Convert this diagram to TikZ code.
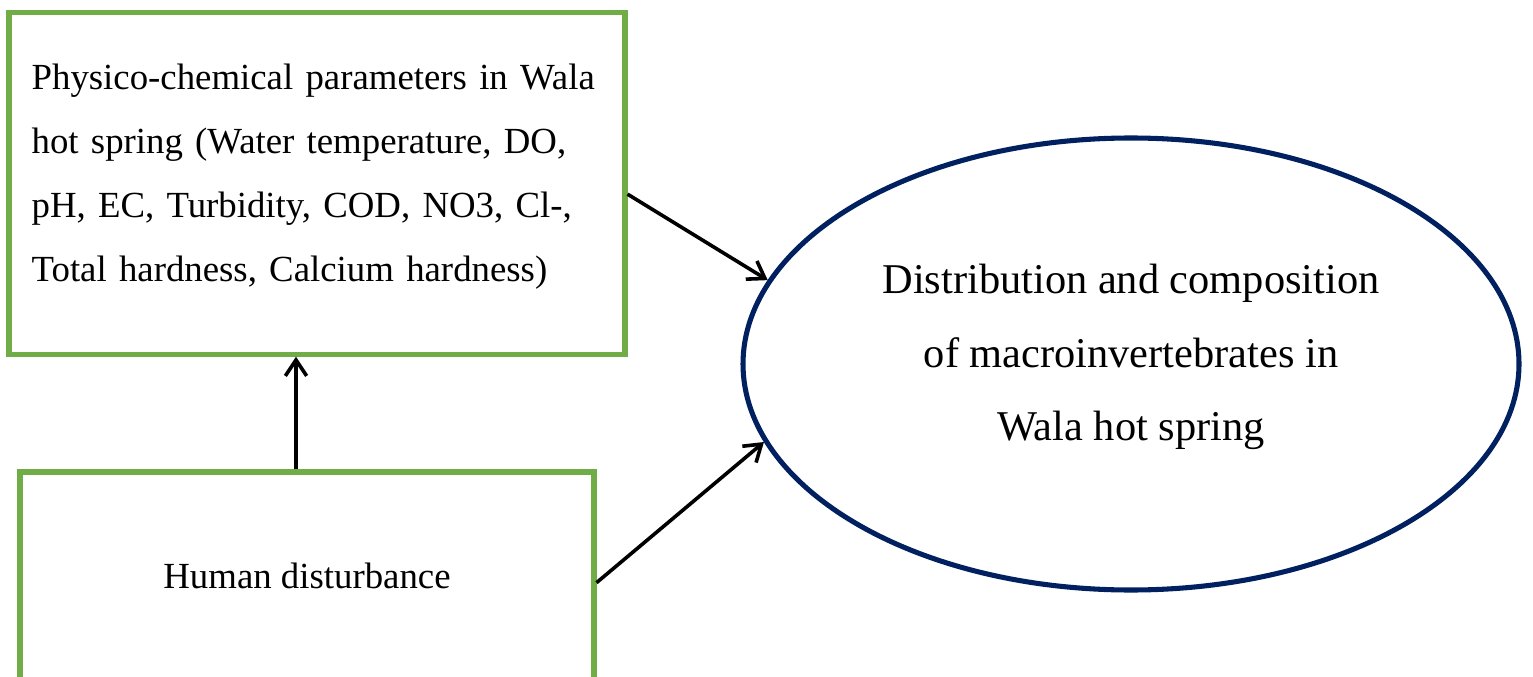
\documentclass[tikz,border=0pt]{standalone}
\usepackage{fontspec}
\setmainfont{Liberation Serif}
\usetikzlibrary{shapes.geometric,arrows.meta}
\definecolor{boxgreen}{HTML}{70AD47}
\definecolor{navy}{HTML}{002060}
\begin{document}
\begin{tikzpicture}[x=0.75pt,y=-0.75pt,
  greenbox/.style={draw=boxgreen,line width=3.8pt,rectangle,inner sep=0pt},
  boxfont/.style={font=\fontsize{27.6}{48}\selectfont},
  ellfont/.style={font=\fontsize{31.8}{55}\selectfont},
  arr/.style={draw=black,line width=2.7pt,-{Straight Barb[length=12pt,width=16pt,line width=2.7pt]}}]
\useasboundingbox (0,0) rectangle (1533,677);
\node[greenbox,boxfont,minimum width=462pt,minimum height=256pt,text width=428pt,align=left] (box1) at (317,183.5)
  {Physico-chemical parameters in Wala\\hot spring (Water temperature, DO,\\pH, EC, Turbidity, COD, NO3, Cl-,\\Total hardness, Calcium hardness)\\[-32.5pt]\mbox{}};
\node[greenbox,boxfont,minimum width=430.5pt,minimum height=156pt] (box2) at (307,576) {Human disturbance};
\node[draw=navy,line width=3.8pt,ellipse,inner sep=0pt,minimum width=582pt,minimum height=339pt] (dist) at (1131,364) {};
\node[ellfont,align=center] (distlabel) at (1131,357) {Distribution and composition\\of macroinvertebrates in\\Wala hot spring};
\draw[arr] ([yshift=-8pt]box1.east) -- (dist.167.6);
\draw[arr] ([yshift=-5pt]box2.east) -- (dist.192);
\draw[arr] ([xshift=-8.25pt]box2.north) -- ([xshift=-8.25pt]box2.north |- box1.south);
\end{tikzpicture}
\end{document}
